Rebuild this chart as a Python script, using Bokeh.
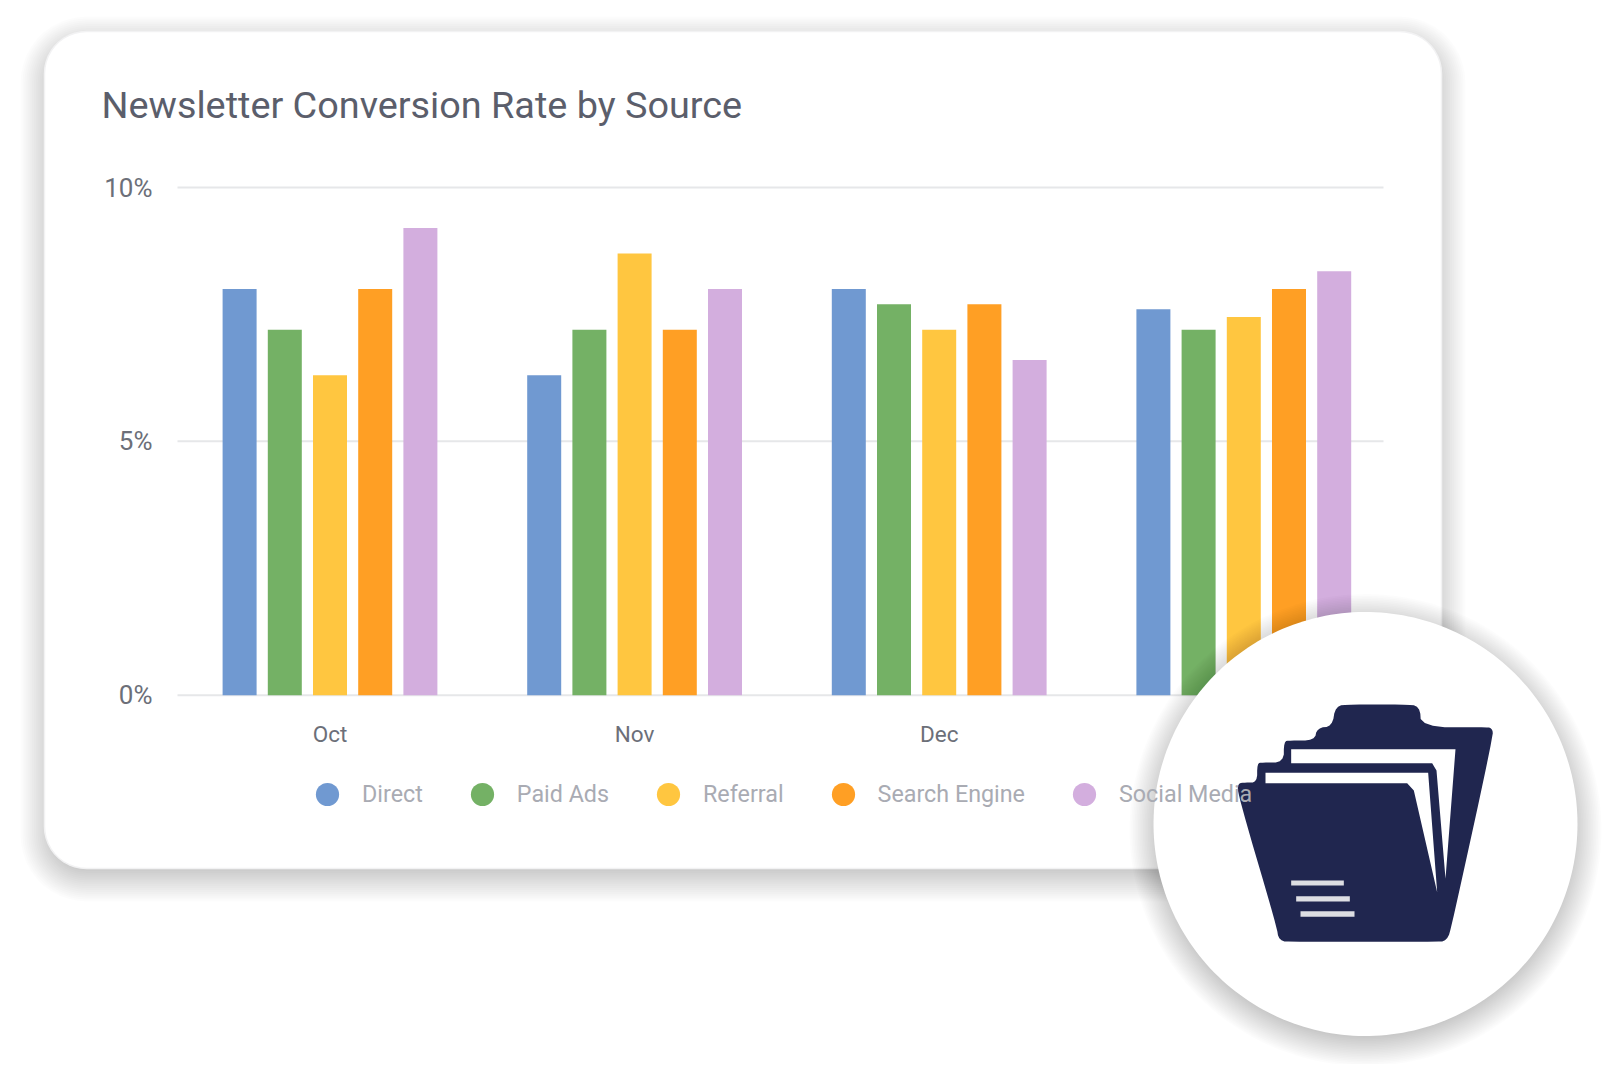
import numpy as np
from bokeh.plotting import figure
from bokeh.embed import file_html
from bokeh.resources import INLINE
from bokeh.core.properties import value
from bokeh.models import (FixedTicker, Legend, LegendItem, LinearAxis, Range1d)

TITLE = "Newsletter Conversion Rate by Source"
months = ["Oct", "Nov", "Dec", "Jan"]
sources = ["Direct", "Paid Ads", "Referral", "Search Engine", "Social Media"]
direct = [8.0, 6.3, 8.0, 7.6]
paid_ads = [7.2, 7.2, 7.7, 7.2]
referral = [6.3, 8.7, 7.2, 7.45]
search_engine = [8.0, 7.2, 7.7, 8.0]
social = [9.2, 8.0, 6.6, 8.35]
y_ticks = [0, 5, 10]
y_labels = ["0%", "5%", "10%"]
colors = ["#7099D1", "#74B165", "#FFC640", "#FF9F24", "#D3AEDE"]
series = [direct, paid_ads, referral, search_engine, social]

W, H = 1605, 1064
PITCH, CX0 = 304.6, 329.5
PXY = (694.7 - 187) / 10
FONT = "Roboto"

p = figure(width=W, height=H, output_backend="svg", toolbar_location=None,
           x_axis_type=None, y_axis_type=None, min_border=0,
           x_range=Range1d(-CX0 / PITCH, (W - CX0) / PITCH),
           y_range=Range1d((694.7 - H) / PXY, 694.7 / PXY),
           outline_line_color=None, background_fill_color="white", border_fill_color="white")
p.extra_x_ranges["px"] = Range1d(0, W)
p.extra_y_ranges["px"] = Range1d(H, 0)
PX = dict(x_range_name="px", y_range_name="px")


def rrect(x0, y0, x1, y1, r):
    r = max(r, 0.5)
    t = np.linspace(0, np.pi / 2, 12)
    xs = np.r_[x1 - r + r * np.sin(t), x1 - r + r * np.cos(t), x0 + r - r * np.sin(t), x0 + r - r * np.cos(t)]
    ys = np.r_[y0 + r - r * np.cos(t), y1 - r + r * np.sin(t), y1 - r + r * np.cos(t), y0 + r - r * np.sin(t)]
    return xs, ys


def disc(cx, cy, r):
    t = np.linspace(0, 2 * np.pi, 240)
    return cx + r * np.cos(t), cy + r * np.sin(t)


def smooth(xs, ys, n=2):
    for _ in range(n):
        nx, ny = np.roll(xs, -1), np.roll(ys, -1)
        xs, ys = (np.c_[0.75 * xs + 0.25 * nx, 0.25 * xs + 0.75 * nx].ravel(),
                  np.c_[0.75 * ys + 0.25 * ny, 0.25 * ys + 0.75 * ny].ravel())
    return xs, ys


# card and its shadow
CARD = (44, 31, 1441, 868, 42)
for e in np.linspace(24, -16, 22):
    xs, ys = rrect(CARD[0] - e, CARD[1] + 9 - e, CARD[2] + e, CARD[3] + 9 + e, CARD[4] + e)
    p.patch(xs, ys, fill_color="#000000", fill_alpha=0.010, line_color=None, level="underlay", **PX)
xs, ys = rrect(*CARD)
p.patch(xs, ys, fill_color="white", line_color="#f2f2f3", line_width=1.5, level="underlay", **PX)

# gridlines
GX0, GX1 = (177 - CX0) / PITCH, (1383 - CX0) / PITCH
p.segment(x0=[GX0] * len(y_ticks), x1=[GX1] * len(y_ticks), y0=y_ticks, y1=y_ticks,
          line_color="#e6e7e9", line_width=2)

# bars
BAR_W, STEP = 34 / PITCH, 45.2 / PITCH
for k, (name, vals, col) in enumerate(zip(sources, series, colors)):
    xpos = [i + (k - 2) * STEP for i in range(len(months))]
    p.vbar(x=xpos, top=vals, bottom=0, width=BAR_W, fill_color=col, line_color=None)

# axes
xaxis = LinearAxis(fixed_location=0, ticker=FixedTicker(ticks=list(range(len(months)))),
                   major_label_overrides={i: m for i, m in enumerate(months)})
yaxis = LinearAxis(fixed_location=GX0, ticker=FixedTicker(ticks=y_ticks),
                   major_label_overrides=dict(zip(y_ticks, y_labels)))
for ax, standoff, size in ((xaxis, 26, "22.5px"), (yaxis, 25, "26px")):
    ax.axis_line_color = None
    ax.major_tick_line_color = None
    ax.minor_tick_line_color = None
    ax.major_tick_out = 0
    ax.major_tick_in = 0
    ax.major_label_standoff = standoff
    ax.major_label_text_font = FONT
    ax.major_label_text_font_size = size
    ax.major_label_text_color = "#6c6f79"
p.add_layout(xaxis, "below")
p.add_layout(yaxis, "left")

# title
p.text(x=[101], y=[104], text=[TITLE], text_font=value(FONT), text_font_size="37.8px",
       text_color="#5b5e6b", text_baseline="alphabetic", text_align="left", **PX)

# legend
items = []
for name, col in zip(sources, colors):
    r = p.scatter(x=[-50], y=[-50], marker="circle", size=23, fill_color=col, line_color=None)
    items.append(LegendItem(label=name, renderers=[r]))
legend = Legend(items=items, orientation="horizontal", location=(298, 241.5), padding=0, margin=0,
                spacing=30, glyph_width=58, glyph_height=58, label_standoff=6,
                label_text_font=FONT, label_text_font_size="23.3px", label_text_color="#a9abb3",
                background_fill_alpha=0, border_line_color=None, level="guide")
p.add_layout(legend, "center")

# round badge with its shadow
CCX, CCY, CR = 1365, 823.5, 212
for e in np.linspace(24, -14, 24):
    xs, ys = disc(CCX, CCY + 6, CR + e)
    p.patch(xs, ys, fill_color="#000000", fill_alpha=0.010, line_color=None, level="overlay", **PX)
xs, ys = disc(CCX, CCY, CR)
p.patch(xs, ys, fill_color="white", line_color=None, level="overlay", **PX)


# folder icon, outlined in pixels of a 3x crop whose corner is at (1130, 590)
def ic(points):
    a = np.array(points, dtype=float)
    return 1130 + a[:, 0] / 3, 590 + a[:, 1] / 3


FOLDER = [(1060, 410), (1085, 412), (1088, 438), (965, 1000), (950, 1052), (910, 1054), (490, 1054), (445, 1052),
          (438, 1005), (322, 612), (322, 578), (345, 576), (380, 576), (380, 518), (395, 516), (460, 516),
          (460, 452), (478, 450), (552, 450), (560, 412), (605, 408), (615, 345), (660, 342), (820, 342),
          (868, 345), (872, 410)]
SHEET1 = [(482, 476), (975, 476), (945, 865), (918, 540), (905, 518), (482, 518)]
SHEET2 = [(405, 547), (893, 547), (920, 905), (850, 600), (830, 578), (405, 578)]
LINES = [[(482, 870), (640, 870), (640, 885), (482, 885)],
         [(497, 917), (658, 917), (658, 933), (497, 933)],
         [(510, 962), (672, 962), (672, 979), (510, 979)]]
xs, ys = smooth(*ic(FOLDER))
p.patch(xs, ys, fill_color="#20264F", line_color=None, level="overlay", **PX)
for sheet in (SHEET1, SHEET2):
    xs, ys = ic(sheet)
    p.patch(xs, ys, fill_color="white", line_color=None, level="overlay", **PX)
for ln in LINES:
    xs, ys = ic(ln)
    p.patch(xs, ys, fill_color="#DDDEE3", line_color=None, level="overlay", **PX)

open("out.html", "w").write(file_html(p, INLINE))
